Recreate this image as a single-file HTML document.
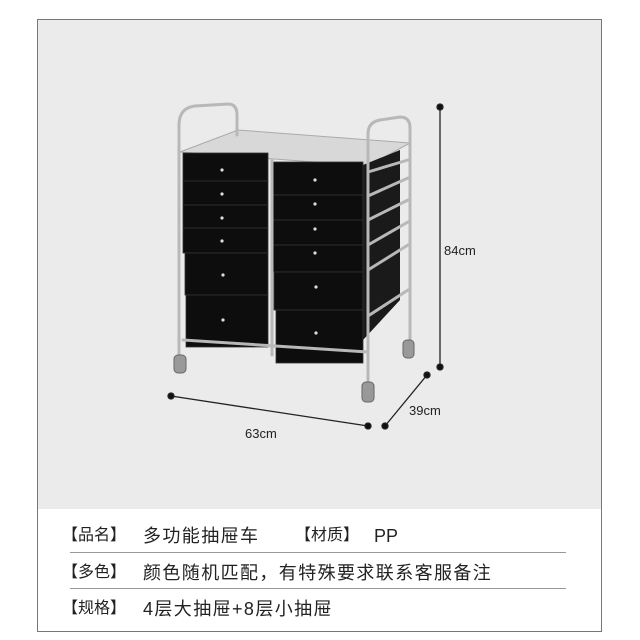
<!DOCTYPE html>
<html><head><meta charset="utf-8"><style>
html,body{margin:0;padding:0;background:#fff;}
body{width:640px;height:640px;position:relative;overflow:hidden;font-family:"Liberation Sans","Noto Sans CJK SC",sans-serif;}
.box{position:absolute;left:37px;top:19px;width:563px;height:611px;border:1px solid #777;background:#fff;}
.gray{position:absolute;left:38px;top:20px;width:563px;height:489px;background:#ebebeb;}
.t{position:absolute;font-size:18px;color:#222;white-space:nowrap;line-height:20px;letter-spacing:1.4px;}
.lb{font-size:16px;letter-spacing:0;}
.ln{position:absolute;left:70px;width:496px;height:1px;background:#999;}
</style></head><body>
<div class="box"></div>
<div class="gray"></div>
<svg style="position:absolute;left:0;top:0" width="640" height="640" viewBox="0 0 640 640">
<g stroke="#222" stroke-width="1.3" fill="#111">
<line x1="440" y1="107" x2="440" y2="367"/><circle cx="440" cy="107" r="3"/><circle cx="440" cy="367" r="3"/>
<line x1="171" y1="396" x2="368" y2="426"/><circle cx="171" cy="396" r="3"/><circle cx="368" cy="426" r="3"/>
<line x1="385" y1="426" x2="427" y2="375"/><circle cx="385" cy="426" r="3"/><circle cx="427" cy="375" r="3"/>
</g>
<g font-family="Liberation Sans, sans-serif" font-size="13" fill="#222">
<text x="444" y="255">84cm</text>
<text x="245" y="438">63cm</text>
<text x="409" y="415">39cm</text>
</g>
<polygon points="180,152 238,130 410,143 368,166" fill="#d8d8d8" stroke="#aaa"/>
<polygon points="363,165 400,150 400,300 363,340" fill="#1a1a1a"/>
<g fill="#0d0d0d" stroke="#333" stroke-width="0.8">
<rect x="183" y="153" width="85" height="29"/>
<rect x="183" y="181" width="85" height="24"/>
<rect x="183" y="205" width="85" height="23"/>
<rect x="183" y="228" width="85" height="25"/>
<rect x="185" y="253" width="83" height="42"/>
<rect x="186" y="295" width="82" height="52"/>
<rect x="272" y="162" width="91" height="33"/>
<rect x="272" y="195" width="91" height="25"/>
<rect x="272" y="220" width="91" height="25"/>
<rect x="272" y="245" width="91" height="27"/>
<rect x="274" y="272" width="89" height="38"/>
<rect x="276" y="310" width="87" height="53"/>
</g>
<g fill="#ddd">
<circle cx="222" cy="170" r="1.6"/><circle cx="222" cy="194" r="1.6"/><circle cx="222" cy="218" r="1.6"/><circle cx="222" cy="241" r="1.6"/><circle cx="223" cy="275" r="1.6"/><circle cx="223" cy="320" r="1.6"/>
<circle cx="315" cy="180" r="1.6"/><circle cx="315" cy="204" r="1.6"/><circle cx="315" cy="229" r="1.6"/><circle cx="315" cy="253" r="1.6"/><circle cx="316" cy="287" r="1.6"/><circle cx="316" cy="333" r="1.6"/>
</g>
<g stroke="#b8b8b8" stroke-width="3" fill="none" stroke-linecap="round">
<path d="M179,357 L179,125 Q179,108 195,106 L228,104 Q237,104 237,115 L237,135"/>
<path d="M368,382 L368,134 Q368,122 380,120 L400,117 Q410,117 410,128 L410,342"/>
<line x1="272" y1="160" x2="272" y2="355"/>
<line x1="183" y1="340" x2="368" y2="352"/>
<line x1="368" y1="172" x2="408" y2="160"/>
<line x1="368" y1="196" x2="408" y2="178"/>
<line x1="368" y1="220" x2="408" y2="200"/>
<line x1="368" y1="245" x2="408" y2="222"/>
<line x1="368" y1="270" x2="408" y2="245"/>
<line x1="368" y1="316" x2="408" y2="290"/>
</g>
<g fill="#999" stroke="#666">
<rect x="174" y="355" width="12" height="18" rx="4"/>
<rect x="362" y="382" width="12" height="20" rx="4"/>
<rect x="403" y="340" width="11" height="18" rx="4"/>
</g>
</svg>
<div class="t lb" style="left:62px;top:526px">【品名】</div>
<div class="t" style="left:143px;top:526px">多功能抽屉车</div>
<div class="t lb" style="left:295px;top:526px">【材质】</div>
<div class="t" style="left:374px;top:526px;letter-spacing:0">PP</div>
<div class="ln" style="top:552px"></div>
<div class="t lb" style="left:62px;top:563px">【多色】</div>
<div class="t" style="left:143px;top:563px">颜色随机匹配，有特殊要求联系客服备注</div>
<div class="ln" style="top:588px"></div>
<div class="t lb" style="left:62px;top:599px">【规格】</div>
<div class="t" style="left:143px;top:599px">4层大抽屉+8层小抽屉</div>
</body></html>
